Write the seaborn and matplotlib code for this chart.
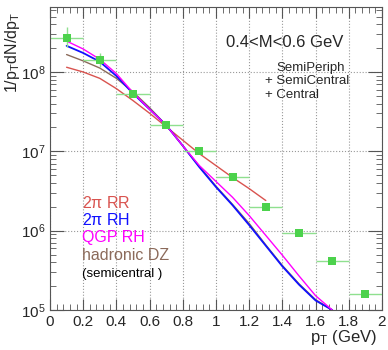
import numpy as np
import matplotlib
matplotlib.use("Agg")
import matplotlib.pyplot as plt
import seaborn as sns
from matplotlib.ticker import LogLocator, MultipleLocator, NullFormatter

# data points (green squares)
pt_data = [0.1, 0.3, 0.5, 0.7, 0.9, 1.1, 1.3, 1.5, 1.7, 1.9]
y_data = [2.7e8, 1.42e8, 5.3e7, 2.13e7, 1.02e7, 4.7e6, 1.97e6, 9.3e5, 4.2e5, 1.6e5]
y_err_lo = [0.66e8, 0.28e8, 0.5e7, 0.1e7, 0.04e7, 1.5e5, 0.6e5, 0.3e5, 0.15e5, 0.06e5]
y_err_hi = [0.95e8, 0.33e8, 0.5e7, 0.1e7, 0.04e7, 1.5e5, 0.6e5, 0.3e5, 0.15e5, 0.06e5]
x_err = [0.1] * 10

# model curves, log10 of 1/pT dN/dpT
pt_rr = [0.1, 0.2, 0.3, 0.4, 0.5, 0.6, 0.7, 0.8, 0.9, 1.0, 1.1, 1.2, 1.3]
log_rr = [8.06, 8.00, 7.92, 7.79, 7.64, 7.48, 7.31, 7.14, 6.97, 6.82, 6.67, 6.53, 6.38]

pt_model = [0.1, 0.2, 0.3, 0.4, 0.5, 0.6, 0.7, 0.8, 0.9, 1.0, 1.1, 1.2, 1.3, 1.4, 1.5, 1.6, 1.7]
log_rh = [8.33, 8.24, 8.13, 7.95, 7.73, 7.53, 7.33, 7.07, 6.80, 6.55, 6.32, 6.07, 5.81, 5.55, 5.32, 5.12, 5.0]
log_qgp = [8.39, 8.29, 8.16, 7.98, 7.74, 7.53, 7.33, 7.07, 6.82, 6.62, 6.42, 6.19, 5.94, 5.69, 5.43, 5.18, 5.0]
log_dz = [8.22, 8.14, 8.05, 7.92, 7.75, 7.55, 7.33, 7.07, 6.81, 6.56, 6.33, 6.09, 5.82, 5.56, 5.33, 5.13, 5.0]

sns.set_style("ticks")
plt.rcParams['font.family'] = ['Liberation Sans', 'DejaVu Sans']
plt.rcParams['mathtext.fontset'] = 'custom'
plt.rcParams['mathtext.rm'] = 'Liberation Sans'
plt.rcParams['mathtext.it'] = 'Liberation Sans'

fig = plt.figure(figsize=(3.88, 3.5), dpi=100)
ax = fig.add_axes([50 / 388, 40 / 350, 332 / 388, 303 / 350])

sns.lineplot(x=pt_rr, y=np.power(10.0, log_rr), ax=ax, color='#d9534f', lw=1.0)
sns.lineplot(x=pt_model, y=np.power(10.0, log_dz), ax=ax, color='#8b6a5a', lw=1.0)
sns.lineplot(x=pt_model, y=np.power(10.0, log_rh), ax=ax, color='#1010ff', lw=1.3)
sns.lineplot(x=pt_model, y=np.power(10.0, log_qgp), ax=ax, color='#ff00ff', lw=1.0)

ax.errorbar(pt_data, y_data, xerr=x_err, yerr=[y_err_lo, y_err_hi], fmt='none',
            ecolor='#8fe08f', lw=1.0)
sns.scatterplot(x=pt_data, y=y_data, ax=ax, marker='s', color='#4cd24c', s=34,
                edgecolor='none', zorder=5)

ax.set_yscale('log')
ax.set_xlim(0, 2)
ax.set_ylim(1e5, 6.6e8)

ax.xaxis.set_minor_locator(MultipleLocator(0.04))
ax.set_xticks([0, 0.2, 0.4, 0.6, 0.8, 1, 1.2, 1.4, 1.6, 1.8, 2])
ax.set_xticklabels(['0', '0.2', '0.4', '0.6', '0.8', '1', '1.2', '1.4', '1.6', '1.8', '2'])
ax.yaxis.set_major_locator(LogLocator(base=10, numticks=10))
ax.yaxis.set_minor_locator(LogLocator(base=10, subs=np.arange(2, 10), numticks=20))
ax.yaxis.set_minor_formatter(NullFormatter())

ax.tick_params(which='both', direction='in', top=True, right=True, labelsize=11, color='#555555')
ax.tick_params(axis='x', which='major', length=8)
ax.tick_params(axis='y', which='major', length=10)
ax.tick_params(which='minor', length=4)
ax.grid(True, which='major', ls=':', color='#999999', lw=0.8)
for s in ax.spines.values():
    s.set_color('#555555')

ax.set_ylabel(r'1/p$_\mathrm{T}$dN/dp$_\mathrm{T}$', fontsize=11.5)
ax.yaxis.set_label_coords(-0.085, 0.85)
ax.set_xlabel(r'p$_\mathrm{T}$ (GeV)', fontsize=12, loc='right')
ax.xaxis.set_label_coords(0.985, -0.06)

ax.text(0.53, 0.884, '0.4<M<0.6 GeV', transform=ax.transAxes, fontsize=12, va='center')
ax.text(0.681, 0.80, 'SemiPeriph', transform=ax.transAxes, fontsize=9.5, va='center')
ax.text(0.648, 0.756, '+ SemiCentral', transform=ax.transAxes, fontsize=9.5, va='center')
ax.text(0.648, 0.71, '+ Central', transform=ax.transAxes, fontsize=9.5, va='center')

ax.text(0.096, 0.353, r'2$\pi$ RR', transform=ax.transAxes, fontsize=11.5, color='#d9534f', va='center')
ax.text(0.096, 0.297, r'2$\pi$ RH', transform=ax.transAxes, fontsize=11.5, color='#1010ff', va='center')
ax.text(0.096, 0.239, 'QGP RH', transform=ax.transAxes, fontsize=11.5, color='#ff00ff', va='center')
ax.text(0.096, 0.179, 'hadronic DZ', transform=ax.transAxes, fontsize=11.5, color='#8b6a5a', va='center')
ax.text(0.096, 0.119, '(semicentral )', transform=ax.transAxes, fontsize=9.5, color='black', va='center')

fig.savefig('out.png', dpi=100)
